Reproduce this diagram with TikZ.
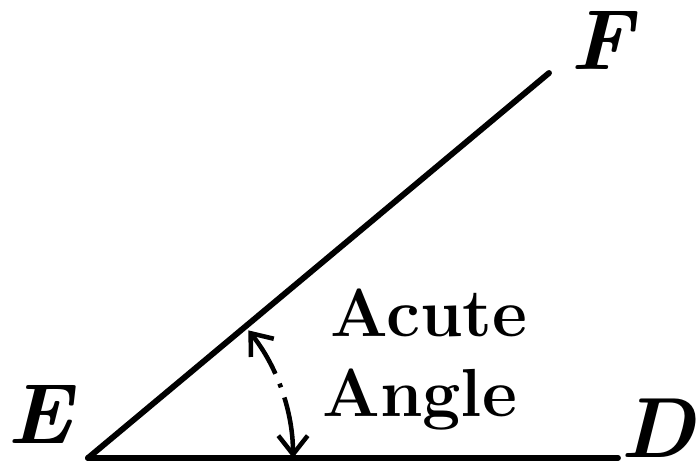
\documentclass[tikz,border=0pt]{standalone}
\usetikzlibrary{arrows.meta,calc}
\begin{document}
\begin{tikzpicture}[x=0.75pt,y=-0.75pt,
  side/.style={line width=4.4pt,line cap=round},
  vlabel/.style={font=\fontsize{64}{64}\selectfont\bfseries\itshape,inner sep=0pt},
  alabel/.style={font=\fontsize{51}{51}\selectfont\bfseries,inner sep=0pt,anchor=base west},
  anglearrow/.style={line width=3.4pt,dash pattern=on 34pt off 8pt on 3pt off 8pt on 60pt,
    {Straight Barb[length=14pt,width=22pt,line width=3.4pt]}-{Straight Barb[length=14pt,width=22pt,line width=3.4pt]}}]
\useasboundingbox (0,0) rectangle (700,466);
\coordinate (E) at (88,458);
\coordinate (D) at (618,458);
\coordinate (F) at (549,73);
\draw[side] (E) -- (D);
\draw[side] (E) -- (F);
\node[vlabel] (lE) at (40,414) {E};
\node[vlabel] (lF) at (602,40) {F};
\node[vlabel] (lD) at (658,428) {D};
\node[alabel] (acute) at (330,337) {Acute};
\node[alabel] (angle) at (322,417) {Angle};
\coordinate (a1) at ($(E)+(-38.5:205)$);
\coordinate (a2) at ($(E)+(0:205)$);
\draw[anglearrow] (a1) arc[start angle=-38.5,end angle=0,radius=205];
\end{tikzpicture}
\end{document}
